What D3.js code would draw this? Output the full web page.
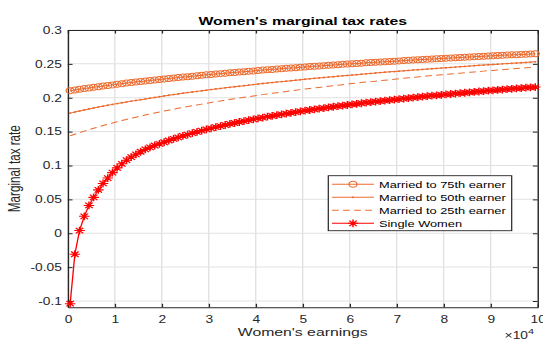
<!DOCTYPE html>
<html><head><meta charset="utf-8">
<script src="https://cdn.jsdelivr.net/npm/d3@7"></script>
<style>
html,body{margin:0;padding:0;background:#fff;}
svg{display:block;font-family:"Liberation Sans",Arial,Helvetica,sans-serif;}
</style></head><body>
<svg id="chart" width="543" height="341"></svg>
<script>
// Women's earnings grid (dollars)
const earnings = [
  500, 1500, 2500, 3500, 4500, 5500, 6500, 7500, 8500, 9500,
  10500, 11500, 12500, 13500, 14500, 15500, 16500, 17500, 18500, 19500,
  20500, 21500, 22500, 23500, 24500, 25500, 26500, 27500, 28500, 29500,
  30500, 31500, 32500, 33500, 34500, 35500, 36500, 37500, 38500, 39500,
  40500, 41500, 42500, 43500, 44500, 45500, 46500, 47500, 48500, 49500,
  50500, 51500, 52500, 53500, 54500, 55500, 56500, 57500, 58500, 59500,
  60500, 61500, 62500, 63500, 64500, 65500, 66500, 67500, 68500, 69500,
  70500, 71500, 72500, 73500, 74500, 75500, 76500, 77500, 78500, 79500,
  80500, 81500, 82500, 83500, 84500, 85500, 86500, 87500, 88500, 89500,
  90500, 91500, 92500, 93500, 94500, 95500, 96500, 97500, 98500, 99500
];

const married75 = [
  0.2105, 0.2115, 0.2125, 0.2135, 0.2144, 0.2154, 0.2163, 0.2172, 0.2181, 0.2190,
  0.2199, 0.2207, 0.2216, 0.2224, 0.2232, 0.2240, 0.2247, 0.2255, 0.2262, 0.2270,
  0.2277, 0.2284, 0.2291, 0.2298, 0.2305, 0.2311, 0.2318, 0.2325, 0.2331, 0.2338,
  0.2344, 0.2350, 0.2356, 0.2362, 0.2368, 0.2374, 0.2379, 0.2385, 0.2391, 0.2396,
  0.2402, 0.2408, 0.2413, 0.2418, 0.2424, 0.2429, 0.2434, 0.2439, 0.2444, 0.2450,
  0.2455, 0.2460, 0.2464, 0.2469, 0.2474, 0.2479, 0.2483, 0.2488, 0.2493, 0.2497,
  0.2502, 0.2506, 0.2510, 0.2515, 0.2519, 0.2523, 0.2527, 0.2532, 0.2536, 0.2540,
  0.2544, 0.2548, 0.2552, 0.2556, 0.2560, 0.2564, 0.2568, 0.2572, 0.2576, 0.2580,
  0.2584, 0.2587, 0.2591, 0.2595, 0.2598, 0.2602, 0.2605, 0.2609, 0.2613, 0.2616,
  0.2620, 0.2623, 0.2626, 0.2630, 0.2633, 0.2636, 0.2640, 0.2643, 0.2646, 0.2650
];

const married50 = [
  0.1773, 0.1789, 0.1805, 0.1820, 0.1835, 0.1849, 0.1863, 0.1876, 0.1889, 0.1902,
  0.1914, 0.1926, 0.1938, 0.1950, 0.1961, 0.1972, 0.1983, 0.1994, 0.2005, 0.2016,
  0.2027, 0.2037, 0.2047, 0.2057, 0.2067, 0.2076, 0.2085, 0.2094, 0.2103, 0.2112,
  0.2121, 0.2130, 0.2138, 0.2146, 0.2154, 0.2162, 0.2170, 0.2178, 0.2186, 0.2194,
  0.2202, 0.2210, 0.2217, 0.2224, 0.2231, 0.2238, 0.2245, 0.2252, 0.2259, 0.2266,
  0.2273, 0.2280, 0.2287, 0.2293, 0.2299, 0.2305, 0.2311, 0.2317, 0.2323, 0.2329,
  0.2335, 0.2341, 0.2347, 0.2353, 0.2359, 0.2365, 0.2371, 0.2377, 0.2382, 0.2387,
  0.2392, 0.2398, 0.2403, 0.2408, 0.2413, 0.2418, 0.2423, 0.2428, 0.2433, 0.2438,
  0.2443, 0.2448, 0.2453, 0.2458, 0.2463, 0.2468, 0.2473, 0.2478, 0.2483, 0.2487,
  0.2491, 0.2496, 0.2500, 0.2504, 0.2508, 0.2512, 0.2517, 0.2521, 0.2526, 0.2530
];

const married25 = [
  0.1438, 0.1462, 0.1485, 0.1507, 0.1529, 0.1550, 0.1570, 0.1590, 0.1609, 0.1627,
  0.1645, 0.1663, 0.1680, 0.1697, 0.1713, 0.1729, 0.1745, 0.1760, 0.1775, 0.1789,
  0.1803, 0.1817, 0.1831, 0.1844, 0.1857, 0.1870, 0.1882, 0.1894, 0.1906, 0.1918,
  0.1930, 0.1942, 0.1953, 0.1964, 0.1975, 0.1986, 0.1996, 0.2006, 0.2016, 0.2026,
  0.2036, 0.2046, 0.2056, 0.2066, 0.2075, 0.2084, 0.2093, 0.2102, 0.2111, 0.2120,
  0.2128, 0.2137, 0.2145, 0.2153, 0.2161, 0.2169, 0.2177, 0.2185, 0.2193, 0.2201,
  0.2209, 0.2217, 0.2224, 0.2231, 0.2238, 0.2245, 0.2252, 0.2259, 0.2266, 0.2273,
  0.2280, 0.2287, 0.2294, 0.2301, 0.2308, 0.2315, 0.2321, 0.2327, 0.2333, 0.2339,
  0.2345, 0.2351, 0.2357, 0.2363, 0.2369, 0.2375, 0.2381, 0.2387, 0.2393, 0.2399,
  0.2404, 0.2410, 0.2415, 0.2420, 0.2425, 0.2431, 0.2436, 0.2442, 0.2447, 0.2453
];

const singleWomen = [
  -0.104, -0.031, 0.004, 0.025, 0.041, 0.053, 0.064, 0.0735, 0.0815, 0.0895,
  0.0965, 0.1025, 0.1078, 0.1123, 0.1165, 0.1203, 0.1237, 0.1267, 0.1295, 0.1320,
  0.1343, 0.1369, 0.1393, 0.1415, 0.1436, 0.1457, 0.1477, 0.1496, 0.1514, 0.1532,
  0.1549, 0.1566, 0.1582, 0.1598, 0.1613, 0.1627, 0.1642, 0.1656, 0.1669, 0.1682,
  0.1695, 0.1708, 0.1720, 0.1732, 0.1744, 0.1755, 0.1766, 0.1777, 0.1788, 0.1799,
  0.1809, 0.1819, 0.1829, 0.1839, 0.1848, 0.1858, 0.1867, 0.1876, 0.1885, 0.1893,
  0.1902, 0.1910, 0.1919, 0.1927, 0.1935, 0.1943, 0.1951, 0.1958, 0.1966, 0.1973,
  0.1981, 0.1988, 0.1995, 0.2002, 0.2009, 0.2016, 0.2023, 0.2030, 0.2036, 0.2043,
  0.2049, 0.2055, 0.2062, 0.2068, 0.2074, 0.2080, 0.2086, 0.2092, 0.2098, 0.2104,
  0.2109, 0.2115, 0.2121, 0.2126, 0.2132, 0.2137, 0.2142, 0.2148, 0.2153, 0.2158
];

const xTickValues = [0, 10000, 20000, 30000, 40000, 50000, 60000, 70000, 80000, 90000, 100000];
const xTickLabels = ["0", "1", "2", "3", "4", "5", "6", "7", "8", "9", "10"];
const yTickValues = [-0.1, -0.05, 0, 0.05, 0.1, 0.15, 0.2, 0.25, 0.3];
const yTickLabels = ["-0.1", "-0.05", "0", "0.05", "0.1", "0.15", "0.2", "0.25", "0.3"];
const seriesNames = ["Married to 75th earner", "Married to 50th earner", "Married to 25th earner", "Single Women"];

// ---- layout (figure drawn in a horizontally widened frame) ----
const SX = 1.35;
const L = 67.8 / SX, R = 537.6 / SX, T = 30, B = 307.3;
const ORANGE = "#ec6c30", RED = "#ff0000", INK = "#262626";

const svg = d3.select("#chart");
const root = svg.append("g").attr("transform", `scale(${SX},1)`);

const x = d3.scaleLinear().domain([0, 100000]).range([L, R]);
const y = d3.scaleLinear().domain([-0.1093, 0.3]).range([B, T]);

// grid
const grid = root.append("g").attr("stroke", "#e1e1e1").attr("stroke-width", 1);
grid.selectAll("line.gx").data(xTickValues).join("line")
  .attr("x1", d => x(d)).attr("x2", d => x(d)).attr("y1", T).attr("y2", B);
grid.selectAll("line.gy").data(yTickValues).join("line")
  .attr("x1", L).attr("x2", R).attr("y1", d => y(d)).attr("y2", d => y(d));

// axes (box with inward ticks on all four sides)
const tk = 3.5;
function styleAxis(g) {
  g.attr("font-family", null).attr("font-size", null);
  g.selectAll("path.domain").attr("stroke", INK).attr("stroke-width", 1);
  g.selectAll(".tick line").attr("stroke", INK).attr("stroke-width", 1);
  g.selectAll(".tick text").attr("fill", INK).style("font-size", "10.2px");
}
root.append("g").attr("transform", `translate(0,${B})`)
  .call(d3.axisBottom(x).tickValues(xTickValues).tickFormat((d, i) => xTickLabels[i])
    .tickSizeInner(-tk).tickSizeOuter(0).tickPadding(8.2))
  .call(styleAxis);
root.append("g").attr("transform", `translate(0,${T})`)
  .call(d3.axisTop(x).tickValues(xTickValues).tickFormat("")
    .tickSizeInner(-tk).tickSizeOuter(0))
  .call(styleAxis);
root.append("g").attr("transform", `translate(${L},0)`)
  .call(d3.axisLeft(y).tickValues(yTickValues).tickFormat((d, i) => yTickLabels[i])
    .tickSizeInner(-tk).tickSizeOuter(0).tickPadding(4.4))
  .call(styleAxis);
root.append("g").attr("transform", `translate(${R},0)`)
  .call(d3.axisRight(y).tickValues(yTickValues).tickFormat("")
    .tickSizeInner(-tk).tickSizeOuter(0))
  .call(styleAxis);

// series
const line = d3.line().x((d, i) => x(earnings[i])).y(d => y(d));
const plot = root.append("g");

function asterisk(r) {
  const a = r * 0.7071;
  return `M0,${-r}L0,${r}M${-r},0L${r},0M${-a},${-a}L${a},${a}M${-a},${a}L${a},${-a}`;
}

// Married to 75th earner: line with open circles
plot.append("path").datum(married75).attr("d", line)
  .attr("fill", "none").attr("stroke", ORANGE).attr("stroke-width", 1);
plot.append("g").selectAll("circle").data(married75).join("circle")
  .attr("cx", (d, i) => x(earnings[i])).attr("cy", d => y(d)).attr("r", 3.0)
  .attr("fill", "none").attr("stroke", ORANGE).attr("stroke-width", 1);

// Married to 50th earner: line with point markers
plot.append("path").datum(married50).attr("d", line)
  .attr("fill", "none").attr("stroke", ORANGE).attr("stroke-width", 1);
plot.append("g").selectAll("circle").data(married50).join("circle")
  .attr("cx", (d, i) => x(earnings[i])).attr("cy", d => y(d)).attr("r", 0.9)
  .attr("fill", ORANGE);

// Married to 25th earner: dashed line
plot.append("path").datum(married25).attr("d", line)
  .attr("fill", "none").attr("stroke", ORANGE).attr("stroke-width", 1)
  .attr("stroke-dasharray", "5,3.2");

// Single women: line with asterisks
plot.append("path").datum(singleWomen).attr("d", line)
  .attr("fill", "none").attr("stroke", RED).attr("stroke-width", 1);
plot.append("g").selectAll("path").data(singleWomen).join("path")
  .attr("transform", (d, i) => `translate(${x(earnings[i])},${y(d)})`)
  .attr("d", asterisk(3.9)).attr("fill", "none").attr("stroke", RED).attr("stroke-width", 1.1);

// legend
const lg = root.append("g");
const lx0 = 328.3 / SX, lx1 = 511.7 / SX, ly0 = 175.7, ly1 = 230.7;
lg.append("rect").attr("x", lx0).attr("y", ly0).attr("width", lx1 - lx0).attr("height", ly1 - ly0)
  .attr("fill", "#fff").attr("stroke", INK).attr("stroke-width", 0.9);
const rowY = [184.3, 197.3, 210.3, 223.3];
const sx0 = 332 / SX, sx1 = 374 / SX, smid = (sx0 + sx1) / 2, tx = 379 / SX;
seriesNames.forEach((name, i) => {
  const yy = rowY[i];
  const col = i === 3 ? RED : ORANGE;
  const ln = lg.append("line").attr("x1", sx0).attr("x2", sx1).attr("y1", yy).attr("y2", yy)
    .attr("stroke", col).attr("stroke-width", 1);
  if (i === 2) ln.attr("stroke-dasharray", "5,3.2");
  if (i === 0) lg.append("circle").attr("cx", smid).attr("cy", yy).attr("r", 3.0)
    .attr("fill", "none").attr("stroke", col).attr("stroke-width", 1);
  if (i === 1) lg.append("circle").attr("cx", smid).attr("cy", yy).attr("r", 0.9).attr("fill", col);
  if (i === 3) lg.append("path").attr("transform", `translate(${smid},${yy})`)
    .attr("d", asterisk(3.9)).attr("fill", "none").attr("stroke", col).attr("stroke-width", 1.1);
  lg.append("text").attr("x", tx).attr("y", yy).attr("dy", "0.35em")
    .style("font-size", "9.5px").attr("fill", "#000").text(name);
});

// title and labels
const cx = (L + R) / 2;
root.append("text").attr("x", cx).attr("y", 25.5).attr("text-anchor", "middle")
  .style("font-size", "11.7px").style("font-weight", "bold").attr("fill", "#000")
  .text("Women's marginal tax rates");
root.append("text").attr("x", cx).attr("y", 336.5).attr("text-anchor", "middle")
  .style("font-size", "11.7px").attr("fill", INK).text("Women's earnings");
root.append("text").attr("transform", `translate(${20 / SX},${(T + B) / 2}) rotate(-90)`)
  .attr("text-anchor", "middle").style("font-size", "11.7px").attr("fill", INK)
  .text("Marginal tax rate");
const ex = root.append("text").attr("x", 504.6 / SX).attr("y", 339.4)
  .style("font-size", "10.2px").attr("fill", INK);
ex.append("tspan").text("×10");
ex.append("tspan").attr("dy", -5).style("font-size", "8px").text("4");
</script>
</body></html>
